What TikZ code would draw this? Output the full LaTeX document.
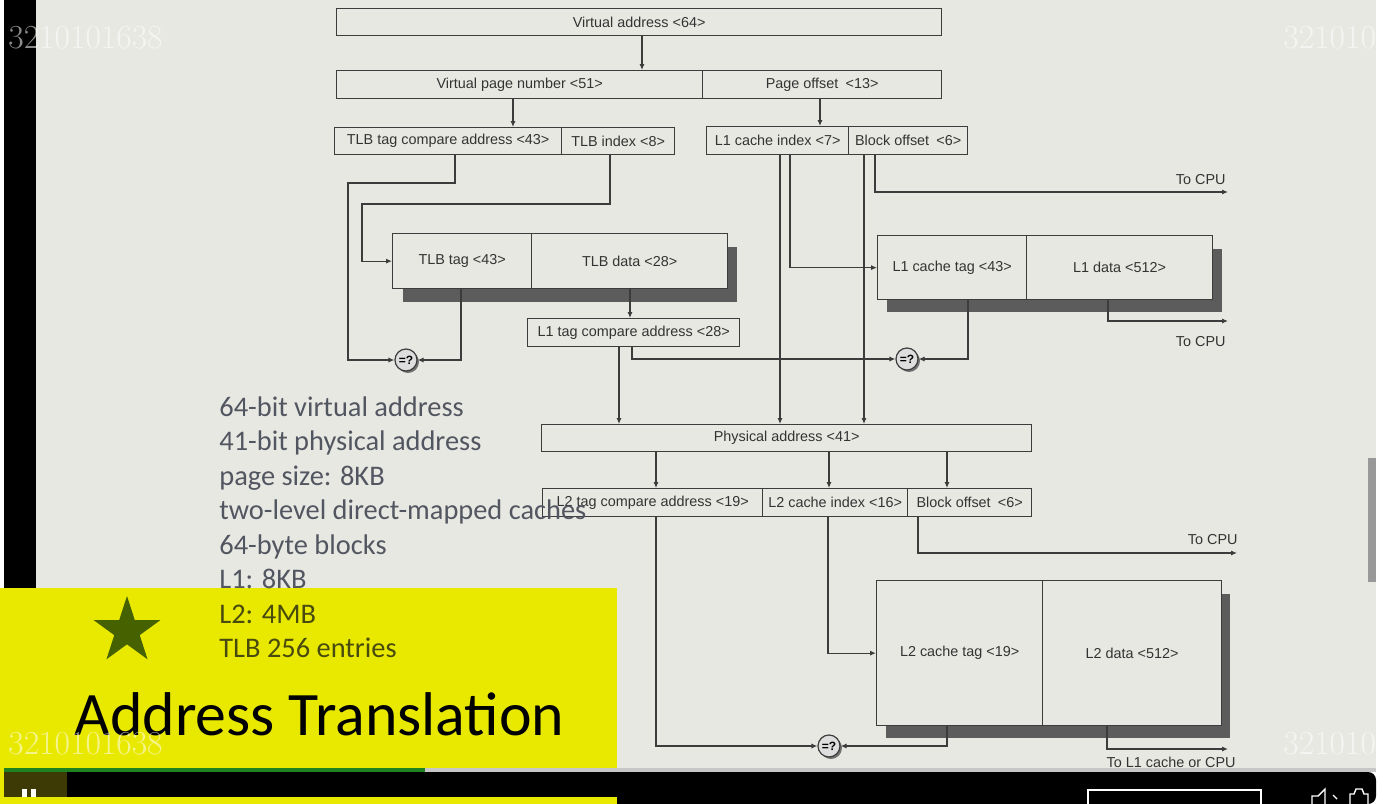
\documentclass[tikz,border=0pt]{standalone}
\usepackage{fontspec}
\usetikzlibrary{arrows.meta,shapes.geometric}
\newfontfamily\diag{Liberation Sans}
\newfontfamily\slide{Carlito}
\definecolor{bg}{RGB}{232,232,227}
\definecolor{ln}{RGB}{60,60,60}
\definecolor{shd}{RGB}{92,92,92}
\definecolor{ylw}{RGB}{233,233,0}
\definecolor{txtg}{RGB}{82,86,96}
\definecolor{txto}{RGB}{72,74,14}
\definecolor{starc}{RGB}{70,98,0}
\definecolor{prog}{RGB}{30,130,30}
\definecolor{pausebg}{RGB}{62,58,6}
\tikzset{
  cell/.style={draw=ln, line width=0.65pt, fill=bg, inner sep=0pt,
    font=\diag\fontsize{7.2}{8}\selectfont, text=black!80},
  conn/.style={draw=ln, line width=0.65pt},
  arr/.style={conn, -{Latex[length=3pt,width=2.6pt]}},
  cmpn/.style={circle, draw=ln, line width=0.6pt, fill=black!13, minimum size=11pt,
    inner sep=0pt, font=\diag\bfseries\fontsize{6}{6}\selectfont},
  cmpshadow/.style={fill=black!55},
  lbl/.style={font=\diag\fontsize{7.2}{8}\selectfont, text=black!80, inner sep=0pt},
  shadowbox/.style={fill=shd, draw=none},
  side/.style={font=\slide\fontsize{14.2}{16}\selectfont, anchor=base west, inner sep=0pt},
  wm/.style={font=\fontsize{16.8}{17}\selectfont, text=white, opacity=0.55, anchor=base west, inner sep=0pt},
}
\newcommand\cellbox[6]{\node[cell, anchor=north west, minimum width={(#4-#2)*0.5pt},
  minimum height={(#5-#3)*0.5pt}] (#1) at (#2,#3) {#6};}
\newcommand\cmpnode[3]{\fill[cmpshadow] (#2+2,#3+2) circle (5.5pt);
  \node[cmpn] (#1) at (#2,#3) {=?};}
\begin{document}
\begin{tikzpicture}[x=0.5pt,y=-0.5pt]
\useasboundingbox (0,0) rectangle (1389,804);
% background
\fill[white] (0,0) rectangle (1389,804);
\fill[bg] (4,0) rectangle (1376,772);
\fill[black] (4,0) rectangle (36,772);

% ---------- diagram ----------
\cellbox{va}{336}{8}{941}{35}{Virtual address <64>}
\cellbox{vpn}{336}{70}{702}{98}{Virtual page number <51>}
\cellbox{po}{702}{70}{941}{98}{Page offset\enspace<13>}
\cellbox{tlbtag}{334}{127}{561}{154}{TLB tag compare address <43>}
\cellbox{tlbidx}{561}{127}{674}{154}{TLB index <8>}
\cellbox{l1idx}{706}{126}{848}{154}{L1 cache index <7>}
\cellbox{l1bo}{848}{126}{967}{154}{Block offset\enspace<6>}

\fill[shadowbox] (403,247) rectangle (737,302);
\cellbox{tlbt}{392}{233}{531}{288}{TLB tag <43>}
\cellbox{tlbd}{531}{233}{727}{288}{TLB data <28>}

\cellbox{l1cmp}{527}{318}{739}{346}{L1 tag compare address <28>}

\fill[shadowbox] (887,249) rectangle (1222,312);
\cellbox{l1t}{877}{235}{1026}{299}{L1 cache tag <43>}
\cellbox{l1d}{1026}{235}{1212}{299}{L1 data <512>}

\cellbox{pa}{541}{424}{1031}{451}{Physical address <41>}
\cellbox{l2cmp}{542}{488}{762}{516}{L2 tag compare address <19>}
\cellbox{l2idx}{762}{488}{907}{516}{L2 cache index <16>}
\cellbox{l2bo}{907}{488}{1031}{516}{Block offset\enspace<6>}

\fill[shadowbox] (886,594) rectangle (1230,738);
\cellbox{l2t}{876}{580}{1042}{725}{L2 cache tag <19>}
\cellbox{l2d}{1042}{580}{1221}{725}{L2 data <512>}

\cmpnode{cmpa}{406}{360}
\cmpnode{cmpb}{907}{359}
\cmpnode{cmpc}{829}{746}

\coordinate (cpua) at (1228,192);
\coordinate (cpub) at (1228,321);
\coordinate (cpuc) at (1237,553);
\coordinate (cpud) at (1228,749);

% connectors
\draw[arr] (642,0 |- va.south) -- (642,0 |- vpn.north);
\draw[arr] (513,0 |- vpn.south) -- (513,0 |- tlbtag.north);
\draw[arr] (820,0 |- po.south) -- (820,0 |- l1idx.north);
\draw[arr] (455,0 |- tlbtag.south) |- (348,183) |- (cmpa.west);
\draw[arr] (610,0 |- tlbidx.south) |- (362,204) |- (tlbt.west);
\draw[arr] (461,0 |- tlbt.south) |- (cmpa.east);
\draw[arr] (630,0 |- tlbd.south) -- (630,0 |- l1cmp.north);
\draw[arr] (619,0 |- l1cmp.south) -- (619,0 |- pa.north);
\draw[arr] (632,0 |- l1cmp.south) |- (cmpb.west);
\draw[arr] (780,0 |- l1idx.south) -- (780,0 |- pa.north);
\draw[arr] (790,0 |- l1idx.south) |- (l1t.west);
\draw[arr] (864,0 |- l1bo.south) -- (864,0 |- pa.north);
\draw[arr] (875,0 |- l1bo.south) |- (cpua);
\draw[arr] (968,0 |- l1t.south) |- (cmpb.east);
\draw[arr] (1108,0 |- l1d.south) |- (cpub);
\draw[arr] (656,0 |- pa.south) -- (656,0 |- l2cmp.north);
\draw[arr] (829,0 |- pa.south) -- (829,0 |- l2idx.north);
\draw[arr] (947,0 |- pa.south) -- (947,0 |- l2bo.north);
\draw[arr] (656,0 |- l2cmp.south) |- (cmpc.west);
\draw[arr] (828,0 |- l2idx.south) |- (l2t.west);
\draw[arr] (918,0 |- l2bo.south) |- (cpuc);
\draw[arr] (947,0 |- l2t.south) |- (cmpc.east);
\draw[arr] (1107,0 |- l2d.south) |- (cpud);

\node[lbl, anchor=east] (ta) at (1226,180) {To CPU};
\node[lbl, anchor=east] (tb) at (1226,342) {To CPU};
\node[lbl, anchor=east] (tc) at (1238,540) {To CPU};
\node[lbl, anchor=east] (td) at (1236,762) {To L1 cache or CPU};

% ---------- slide text ----------
\fill[ylw] (0,588) rectangle (617,804);
\node[side, text=txtg] (s1) at (219,416) {64-bit virtual address};
\node[side, text=txtg] (s2) at (219,450.5) {41-bit physical address};
\node[side, text=txtg] (s3) at (219,485) {page size: 8KB};
\node[side, text=txtg] (s4) at (219,519.5) {two-level direct-mapped caches};
\node[side, text=txtg] (s5) at (219,554) {64-byte blocks};
\node[side, text=txtg] (s6) at (219,588.5) {L1: 8KB};
\begin{scope}
\clip (0,588) rectangle (617,804);
\node[side, text=txto] (s6b) at (219,588.5) {L1: 8KB};
\end{scope}
\node[side, text=txto] (s7) at (219,623) {L2: 4MB};
\node[side, text=txto] (s8) at (219,657.5) {TLB 256 entries};
\node[star, star points=5, star point ratio=2.618, fill=starc, inner sep=0pt,
  minimum size=35pt] (star) at (127,631) {};
\node[font=\slide\fontsize{30.9}{32}\selectfont, anchor=base west, inner sep=0pt] (title)
  at (74,735) {Address Translation};

% ---------- player chrome ----------
\fill[black!22] (4,768) rectangle (1376,772);
\fill[prog] (4,768) rectangle (425,772);
\fill[black, rounded corners=4pt] (4,772) rectangle (1376,804);
\fill[black] (4,772) rectangle (1360,804);
\fill[ylw] (0,797) rectangle (617,804);
\fill[pausebg] (4,772) rectangle (67,797);
\fill[white] (22,789) rectangle (27,797);
\fill[white] (31,789) rectangle (36,797);
\draw[white, line width=0.6pt] (1088,804) -- (1088,790) -- (1261,790) -- (1261,804);
\draw[white, line width=0.7pt] (1312,804) -- (1312,796) -- (1318,796) -- (1325,789) -- (1325,804);
\draw[white, line width=0.7pt] (1333,795) -- (1337,799);
\draw[white, line width=0.7pt] (1350,804) -- (1350,794) -- (1354,794) -- (1356,789) -- (1362,789) -- (1364,794) -- (1368,794) -- (1368,804);

% watermarks
\node[wm] (w1) at (8,48) {3210101638};
\node[wm] (w2) at (1283,48) {3210101638};
\node[wm] (w3) at (8,754) {3210101638};
\node[wm] (w4) at (1283,754) {3210101638};
\fill[white] (1376,0) rectangle (1389,772);
\fill[black!40] (1368,458) rectangle (1376,582);
\end{tikzpicture}
\end{document}
